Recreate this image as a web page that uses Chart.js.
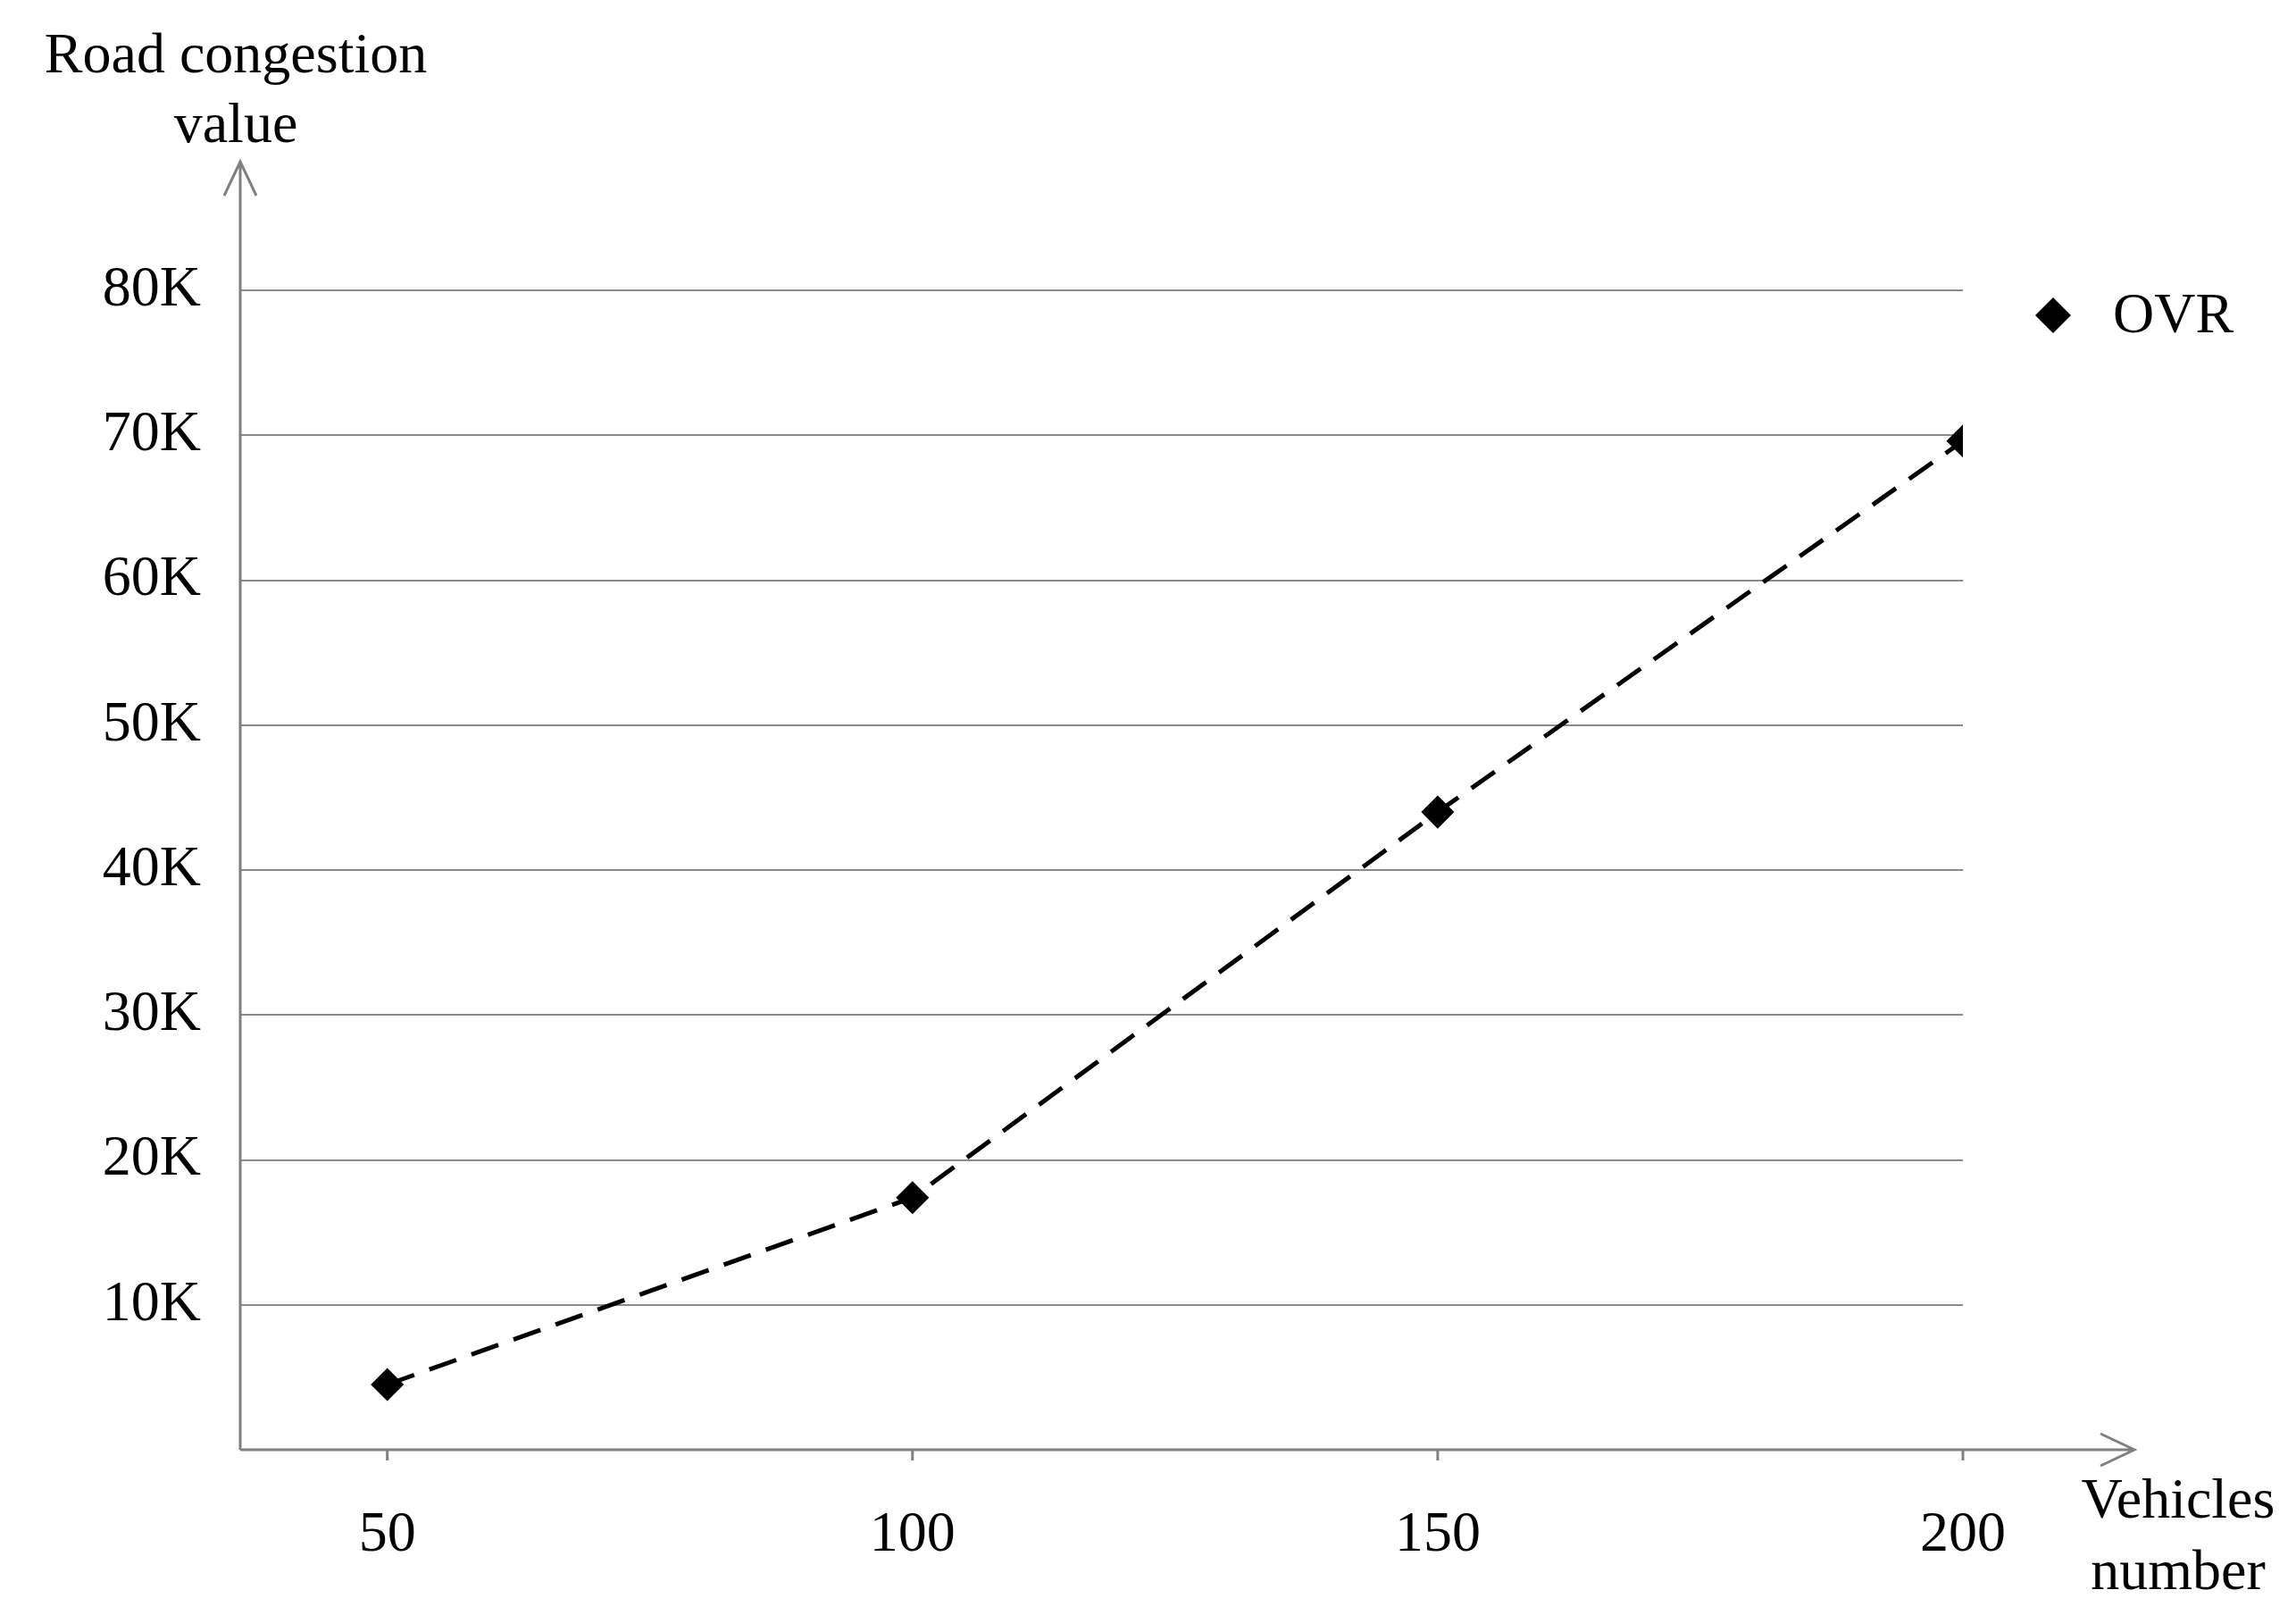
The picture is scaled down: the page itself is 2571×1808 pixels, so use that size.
<!DOCTYPE html>
<html>
<head>
<meta charset="utf-8">
<script src="https://cdn.jsdelivr.net/npm/chart.js@4"></script>
<style>
  html, body { margin: 0; padding: 0; background: #fff; }
  #wrap { width: 2571px; height: 1808px; }
</style>
</head>
<body>
<div id="wrap"><canvas id="myChart" width="2571" height="1808"></canvas></div>
<script>
const vehicles = [50, 100, 150, 200];
const ovrValues = [4500, 17400, 44000, 69600];
const xTickValues = [50, 100, 150, 200];
const yTickLabels = ['10K', '20K', '30K', '40K', '50K', '60K', '70K', '80K'];

const FONT = '"Liberation Serif", "Times New Roman", serif';
const AXIS = '#808080';

// axes with arrows, titles and legend
const decorations = {
    id: 'decorations',
    afterDraw(chart) {
        const c = chart.ctx;
        const a = chart.chartArea;
        c.save();
        c.strokeStyle = AXIS;
        c.lineWidth = 3;
        const ox = a.left, oy = a.bottom;
        const topY = 181, rightX = 2390;
        c.beginPath();
        c.moveTo(ox, oy); c.lineTo(ox, topY);
        c.moveTo(ox - 18, topY + 38); c.lineTo(ox, topY); c.lineTo(ox + 18, topY + 38);
        c.moveTo(ox, oy); c.lineTo(rightX, oy);
        c.moveTo(rightX - 38, oy - 18); c.lineTo(rightX, oy); c.lineTo(rightX - 38, oy + 18);
        c.stroke();
        // small tick marks below x axis
        chart.scales.x.ticks.forEach(t => {
            const px = chart.scales.x.getPixelForValue(t.value);
            c.beginPath(); c.moveTo(px, oy); c.lineTo(px, oy + 12); c.stroke();
        });

        c.fillStyle = '#000';
        c.font = '64px ' + FONT;
        c.textAlign = 'center';
        c.textBaseline = 'middle';
        c.fillText('Road congestion', 264, 64);
        c.fillText('value', 264, 142);
        c.fillText('Vehicles', 2439, 1682);
        c.fillText('number', 2439, 1762);

        // legend
        const lx = 2299, ly = 353, r = 20;
        c.beginPath();
        c.moveTo(lx, ly - r); c.lineTo(lx + r, ly); c.lineTo(lx, ly + r); c.lineTo(lx - r, ly);
        c.closePath(); c.fill();
        c.textAlign = 'left';
        c.fillText('OVR', 2366, 355);
        c.restore();
    }
};

const ctx = document.getElementById('myChart').getContext('2d');
new Chart(ctx, {
    type: 'line',
    data: {
        datasets: [{
            label: 'OVR',
            data: vehicles.map((v, i) => ({ x: v, y: ovrValues[i] })),
            borderColor: '#000',
            backgroundColor: '#000',
            borderWidth: 5,
            borderDash: [32, 18],
            pointStyle: 'rectRot',
            pointRadius: 15,
            tension: 0
        }]
    },
    options: {
        responsive: false,
        animation: false,
        layout: { padding: { top: 325, right: 373, left: 0, bottom: 0 } },
        plugins: { legend: { display: false }, tooltip: { enabled: false } },
        scales: {
            x: {
                type: 'linear',
                min: 36, max: 200,
                afterFit(s) { s.height = 185; },
                afterBuildTicks(s) { s.ticks = xTickValues.map(v => ({ value: v })); },
                grid: { display: false },
                border: { display: false },
                ticks: { color: '#000', font: { family: FONT, size: 64 }, padding: 50, maxRotation: 0 }
            },
            y: {
                min: 0, max: 80000,
                afterFit(s) { s.width = 269; },
                grid: { color: '#8a8a8a', lineWidth: 2, drawTicks: false },
                border: { display: false },
                ticks: {
                    stepSize: 10000,
                    color: '#000',
                    font: { family: FONT, size: 64 },
                    padding: 44,
                    callback: v => v === 0 ? '' : yTickLabels[v / 10000 - 1]
                }
            }
        }
    },
    plugins: [decorations]
});
</script>
</body>
</html>
